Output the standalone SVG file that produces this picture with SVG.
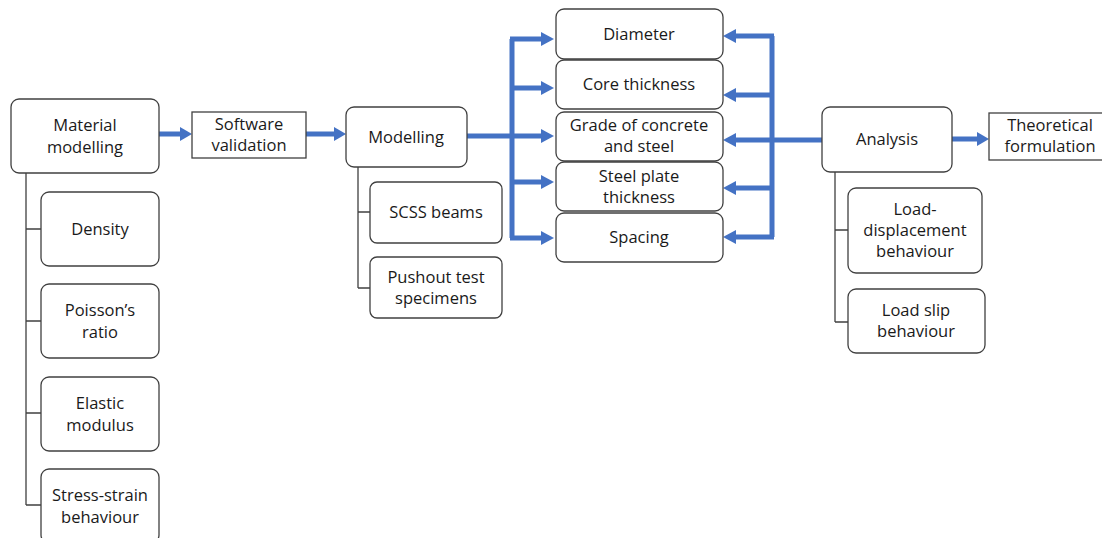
<svg xmlns="http://www.w3.org/2000/svg" width="1102" height="538" viewBox="0 0 1102 538">
<defs>
<style>
.n{fill:#fff;stroke:#404040;stroke-width:1.3}
.t{font-family:"Open Sans","Liberation Sans",sans-serif;font-size:16.5px;fill:#1a1a1a;text-anchor:middle}
.b{fill:none;stroke:#4472C4;stroke-width:5}
.k{fill:none;stroke:#404040;stroke-width:1.3}
.h{fill:#4472C4}
</style>
</defs>
<rect width="1102" height="538" fill="#fff"/>
<g id="connectors">
<path class="k" d="M26 173V505M26 229H41M26 321H41M26 413H41M26 505H41"/>
<path class="k" d="M358 167V288M358 212H370M358 288H370"/>
<path class="k" d="M835 172V322M835 230H848M835 322H848"/>
<path class="b" d="M159 134H182M306 134H336M952 139H979"/>
<polygon class="h" points="180,127 192,134 180,141"/>
<polygon class="h" points="334,127 346,134 334,141"/>
<polygon class="h" points="977,132 989,139 977,146"/>
<path class="b" d="M467 136H512M512 39V238M510 39H543M512 88H543M512 136H543M512 182H543M510 238H543"/>
<polygon class="h" points="541,32 554,39 541,46"/>
<polygon class="h" points="541,81 554,88 541,95"/>
<polygon class="h" points="541,129 554,136 541,143"/>
<polygon class="h" points="541,175 554,182 541,189"/>
<polygon class="h" points="541,231 554,238 541,245"/>
<path class="b" d="M822 140H772M772 36V237M774 36H734M772 95H734M772 140H734M772 188H734M774 237H734"/>
<polygon class="h" points="736,29 723,36 736,43"/>
<polygon class="h" points="736,88 723,95 736,102"/>
<polygon class="h" points="736,133 723,140 736,147"/>
<polygon class="h" points="736,181 723,188 736,195"/>
<polygon class="h" points="736,230 723,237 736,244"/>
</g>
<g id="material"><rect class="n" x="11" y="99" width="148" height="74" rx="8"/><text class="t" x="85" y="131">Material</text><text class="t" x="85" y="153">modelling</text></g>
<g id="software"><rect class="n" x="192" y="112" width="114" height="46"/><text class="t" x="249" y="130">Software</text><text class="t" x="249" y="151">validation</text></g>
<g id="density"><rect class="n" x="41" y="192" width="118" height="74" rx="8"/><text class="t" x="100" y="235">Density</text></g>
<g id="poisson"><rect class="n" x="41" y="284" width="118" height="74" rx="8"/><text class="t" x="100" y="316">Poisson’s</text><text class="t" x="100" y="338">ratio</text></g>
<g id="elastic"><rect class="n" x="41" y="377" width="118" height="74" rx="8"/><text class="t" x="100" y="409">Elastic</text><text class="t" x="100" y="431">modulus</text></g>
<g id="stress"><rect class="n" x="41" y="469" width="118" height="74" rx="8"/><text class="t" x="100" y="501">Stress-strain</text><text class="t" x="100" y="523">behaviour</text></g>
<g id="modelling"><rect class="n" x="346" y="107" width="121" height="60" rx="8"/><text class="t" x="406" y="143">Modelling</text></g>
<g id="scss"><rect class="n" x="370" y="182" width="132" height="61" rx="7"/><text class="t" x="436" y="218">SCSS beams</text></g>
<g id="pushout"><rect class="n" x="370" y="257" width="132" height="61" rx="7"/><text class="t" x="436" y="283">Pushout test</text><text class="t" x="436" y="304">specimens</text></g>
<g id="diameter"><rect class="n" x="556" y="9" width="167" height="50" rx="8"/><text class="t" x="639" y="40">Diameter</text></g>
<g id="core"><rect class="n" x="556" y="60" width="167" height="49" rx="8"/><text class="t" x="639" y="90">Core thickness</text></g>
<g id="grade"><rect class="n" x="556" y="112" width="167" height="49" rx="8"/><text class="t" x="639" y="131">Grade of concrete</text><text class="t" x="639" y="152">and steel</text></g>
<g id="plate"><rect class="n" x="556" y="162" width="167" height="49" rx="8"/><text class="t" x="639" y="182">Steel plate</text><text class="t" x="639" y="203">thickness</text></g>
<g id="spacing"><rect class="n" x="556" y="213" width="167" height="49" rx="8"/><text class="t" x="639" y="243">Spacing</text></g>
<g id="analysis"><rect class="n" x="822" y="107" width="130" height="65" rx="8"/><text class="t" x="887" y="145">Analysis</text></g>
<g id="theoretical"><rect class="n" x="989" y="113" width="116" height="47"/><text class="t" x="1050" y="131">Theoretical</text><text class="t" x="1050" y="152">formulation</text></g>
<g id="loaddisp"><rect class="n" x="848" y="188" width="134" height="85" rx="8"/><text class="t" x="915" y="215">Load-</text><text class="t" x="915" y="236">displacement</text><text class="t" x="915" y="257">behaviour</text></g>
<g id="loadslip"><rect class="n" x="848" y="289" width="137" height="64" rx="8"/><text class="t" x="916" y="316">Load slip</text><text class="t" x="916" y="337">behaviour</text></g>
</svg>
